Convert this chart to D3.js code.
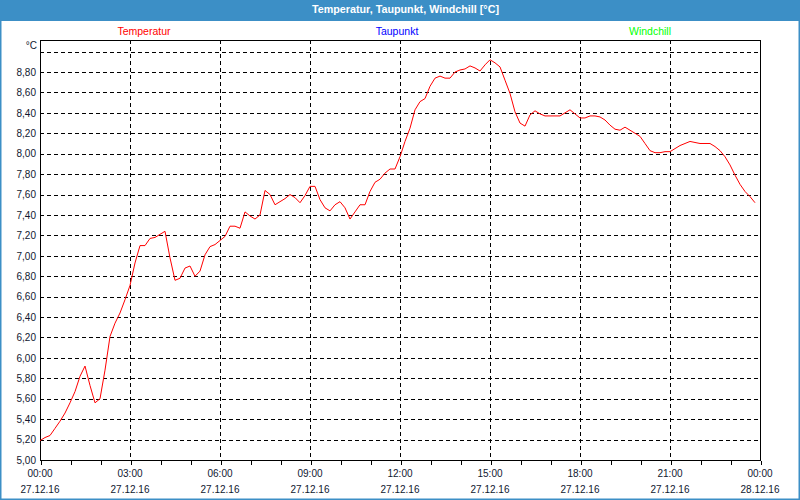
<!DOCTYPE html>
<html>
<head>
<meta charset="utf-8">
<script src="https://cdn.jsdelivr.net/npm/d3@7"></script>
<style>
  html, body { margin: 0; padding: 0; background: #fff; }
  svg { display: block; }
  text { font-family: "Liberation Sans", "DejaVu Sans", sans-serif; }
</style>
</head>
<body>
<svg id="chart" width="800" height="500"></svg>
<script>
// ---------------- data ----------------
const chartTitle = "Temperatur, Taupunkt, Windchill [°C]";
const seriesNames = ["Temperatur", "Taupunkt", "Windchill"];
const seriesColors = ["#ff0000", "#0000ff", "#00ff00"];
const startTime = new Date(2016, 11, 27, 0, 0);
const endTime = new Date(2016, 11, 28, 0, 0);
const sampleMinutes = 10;
// Temperatur, one reading every 10 minutes from 00:00
const temperatur = [
  5.19, 5.22, 5.24, 5.31, 5.38, 5.46, 5.56, 5.67, 5.82, 5.92,
  5.73, 5.56, 5.60, 5.88, 6.21, 6.34, 6.44, 6.57, 6.71, 6.93,
  7.10, 7.10, 7.17, 7.18, 7.21, 7.24, 6.98, 6.76, 6.78, 6.88,
  6.90, 6.80, 6.85, 7.01, 7.09, 7.11, 7.15, 7.19, 7.29, 7.29,
  7.27, 7.43, 7.39, 7.36, 7.40, 7.64, 7.60, 7.50, 7.53, 7.56,
  7.60, 7.57, 7.52, 7.59, 7.68, 7.68, 7.55, 7.47, 7.44, 7.50,
  7.53, 7.47, 7.36, 7.43, 7.50, 7.50, 7.63, 7.72, 7.75, 7.81,
  7.85, 7.85, 7.97, 8.12, 8.25, 8.43, 8.51, 8.54, 8.66, 8.74,
  8.76, 8.74, 8.74, 8.80, 8.82, 8.83, 8.86, 8.84, 8.81, 8.87,
  8.92, 8.89, 8.85, 8.72, 8.59, 8.41, 8.30, 8.27, 8.38, 8.42,
  8.39, 8.37, 8.37, 8.37, 8.37, 8.40, 8.43, 8.39, 8.35, 8.35,
  8.37, 8.37, 8.36, 8.33, 8.28, 8.24, 8.23, 8.26, 8.23, 8.20,
  8.17, 8.10, 8.03, 8.01, 8.01, 8.02, 8.02, 8.05, 8.08, 8.10,
  8.12, 8.11, 8.10, 8.10, 8.10, 8.07, 8.03, 7.97, 7.89, 7.79,
  7.70, 7.63, 7.58, 7.52
];
const yTicks = [5.0, 5.2, 5.4, 5.6, 5.8, 6.0, 6.2, 6.4, 6.6, 6.8, 7.0,
                7.2, 7.4, 7.6, 7.8, 8.0, 8.2, 8.4, 8.6, 8.8];
const yGrid = [5.2, 5.4, 5.6, 5.8, 6.0, 6.2, 6.4, 6.6, 6.8, 7.0, 7.2,
               7.4, 7.6, 7.8, 8.0, 8.2, 8.4, 8.6, 8.8, 9.0];
const yUnit = "°C";

// ---------------- layout ----------------
const W = 800, H = 500;
const plot = { left: 40, right: 760, top: 40, bottom: 460 };
const blue = "#3c8fc6";
const labelColor = "#101830";

const svg = d3.select("#chart");

const times = d3.timeMinute.every(sampleMinutes).range(startTime, endTime).slice(0, temperatur.length);
const data = temperatur.map((v, i) => ({ t: times[i], v }));

const x = d3.scaleTime().domain([startTime, endTime]).range([plot.left, plot.right]);
const y = d3.scaleLinear().domain([5.0, 9.0]).range([plot.bottom, 51.6]);

// background + outer frame
svg.append("rect").attr("x", 0).attr("y", 0).attr("width", W).attr("height", H).attr("fill", "#fff");
svg.append("rect").attr("x", 0).attr("y", 0).attr("width", W).attr("height", 21).attr("fill", blue);
svg.append("rect").attr("x", 0.75).attr("y", 0.75).attr("width", W - 1.5).attr("height", H - 1.5)
  .attr("fill", "none").attr("stroke", blue).attr("stroke-width", 1.5);

// title
svg.append("text").attr("x", 405.5).attr("y", 12.5).attr("text-anchor", "middle")
  .attr("fill", "#fff").attr("font-weight", "bold").attr("font-size", 11)
  .attr("textLength", 187).attr("lengthAdjust", "spacingAndGlyphs")
  .text(chartTitle);

// legend
const legendX = [144, 397, 650];
svg.selectAll("text.legend").data(seriesNames).join("text")
  .attr("class", "legend")
  .attr("x", (d, i) => legendX[i]).attr("y", 35)
  .attr("text-anchor", "middle").attr("font-size", 10.5)
  .attr("fill", (d, i) => seriesColors[i])
  .text(d => d);

// horizontal gridlines
svg.append("g").selectAll("line").data(yGrid).join("line")
  .attr("x1", plot.left).attr("x2", plot.right)
  .attr("y1", d => Math.round(y(d)) + 0.5).attr("y2", d => Math.round(y(d)) + 0.5)
  .attr("stroke", "#000").attr("stroke-width", 1).attr("stroke-dasharray", "4,3")
  .attr("shape-rendering", "crispEdges");

// vertical gridlines every 3 hours
const majorTimes = d3.timeHour.every(3).range(d3.timeHour.offset(startTime, 3), endTime);
svg.append("g").selectAll("line").data(majorTimes).join("line")
  .attr("x1", d => Math.round(x(d)) + 0.5).attr("x2", d => Math.round(x(d)) + 0.5)
  .attr("y1", plot.top).attr("y2", plot.bottom)
  .attr("stroke", "#000").attr("stroke-width", 1).attr("stroke-dasharray", "4,3")
  .attr("shape-rendering", "crispEdges");

// x axis with hourly minor ticks
const fmtTime = d3.timeFormat("%H:%M");
const fmtDate = d3.timeFormat("%d.%m.%y");
const xAxis = d3.axisBottom(x).ticks(d3.timeHour.every(1)).tickSize(4).tickFormat("");
const gx = svg.append("g").attr("transform", `translate(0.5,${plot.bottom + 0.5})`).call(xAxis);
gx.select(".domain").remove();
gx.selectAll(".tick line").attr("stroke", "#000").attr("shape-rendering", "crispEdges");

const labelTimes = d3.timeHour.every(3).range(startTime, d3.timeMinute.offset(endTime, 1));
const gl = svg.append("g");
gl.selectAll("text.t").data(labelTimes).join("text").attr("class", "t")
  .attr("x", d => x(d)).attr("y", 477).attr("text-anchor", "middle")
  .attr("font-size", 10).attr("fill", labelColor).text(d => fmtTime(d));
gl.selectAll("text.d").data(labelTimes).join("text").attr("class", "d")
  .attr("x", d => x(d)).attr("y", 492.5).attr("text-anchor", "middle")
  .attr("font-size", 10).attr("fill", labelColor).text(d => fmtDate(d));

// y axis labels
const fmtY = v => d3.format(".2f")(v).replace(".", ",");
const yAxis = d3.axisLeft(y).tickValues(yTicks).tickSize(0).tickPadding(4).tickFormat(fmtY);
const gy = svg.append("g").attr("transform", `translate(${plot.left},0)`).call(yAxis);
gy.select(".domain").remove();
gy.selectAll(".tick text").attr("font-size", 10).attr("fill", labelColor)
  .attr("font-family", "'Liberation Sans', 'DejaVu Sans', sans-serif");
svg.append("text").attr("x", 37).attr("y", 48.5).attr("text-anchor", "end")
  .attr("font-size", 10).attr("fill", labelColor).text(yUnit);

// plot frame
svg.append("rect").attr("x", plot.left + 0.5).attr("y", plot.top + 0.5)
  .attr("width", plot.right - plot.left).attr("height", plot.bottom - plot.top)
  .attr("fill", "none").attr("stroke", "#000").attr("stroke-width", 1)
  .attr("shape-rendering", "crispEdges");

// temperature line
const line = d3.line().x(d => x(d.t)).y(d => y(d.v));
svg.append("path").datum(data).attr("d", line)
  .attr("fill", "none").attr("stroke", seriesColors[0]).attr("stroke-width", 1);
</script>
</body>
</html>
